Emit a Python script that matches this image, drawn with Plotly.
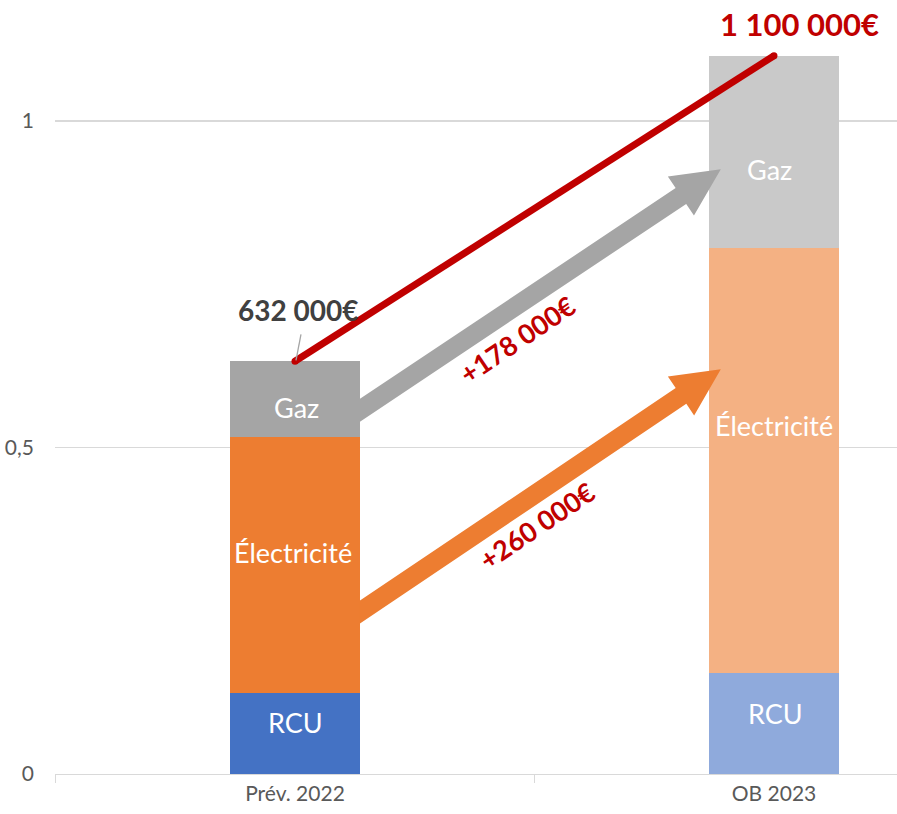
import plotly.graph_objects as go
import math

# ---------------- data ----------------
categories = ["Prév. 2022", "OB 2023"]
segments = ["RCU", "Électricité", "Gaz"]
rcu = [0.124, 0.154]
elec = [0.392, 0.652]
gaz = [0.116, 0.294]
totals_text = ["632 000€", "1 100 000€"]
delta_elec_text = "+260 000€"
delta_gaz_text = "+178 000€"
y_tickvals = [0, 0.5, 1]
y_ticktext = ["0", "0,5", "1"]

colors_rcu = ["#4472C4", "#8FAADC"]
colors_elec = ["#ED7D31", "#F4B183"]
colors_gaz = ["#A5A5A5", "#C9C9C9"]

# ---------------- layout geometry ----------------
W, H = 897, 814
ml, mr, mt, mb = 55, 0, 0, 40
xr = [-0.501, 1.2568]
yr = [0, 774 / 653]
pw, ph = W - ml - mr, H - mt - mb
bar_w = 0.2714
FONT = "Lato, Carlito, Calibri, sans-serif"


def px(x):
    return ml + (x - xr[0]) / (xr[1] - xr[0]) * pw


def py(y):
    return mt + (yr[1] - y) / (yr[1] - yr[0]) * ph


def dx(p):
    return xr[0] + (p - ml) / pw * (xr[1] - xr[0])


def dy(p):
    return yr[1] - (p - mt) / ph * (yr[1] - yr[0])


def arrow_path(tail, tip, hw=9.5, hl=48, hh=23.5):
    tx, ty = px(tail[0]), py(tail[1])
    ex, ey = px(tip[0]), py(tip[1])
    L = math.hypot(ex - tx, ey - ty)
    ux, uy = (ex - tx) / L, (ey - ty) / L
    nx, ny = -uy, ux
    bx, by = ex - ux * hl, ey - uy * hl
    pts = []
    for s in (1, -1):
        ox, oy = bx + s * nx * hw, by + s * ny * hw
        t = (tx - ox) / ux
        pts.append((tx, oy + t * uy))
    p_top_tail, p_bot_tail = pts
    poly = [p_top_tail,
            (bx + nx * hw, by + ny * hw),
            (bx + nx * hh, by + ny * hh),
            (ex, ey),
            (bx - nx * hh, by - ny * hh),
            (bx - nx * hw, by - ny * hw),
            p_bot_tail]
    return "M " + " L ".join(f"{dx(a):.5f},{dy(b):.5f}" for a, b in poly) + " Z"


fig = go.Figure()

for name, vals, cols in [("RCU", rcu, colors_rcu), ("Électricité", elec, colors_elec), ("Gaz", gaz, colors_gaz)]:
    fig.add_trace(go.Bar(
        x=categories, y=vals, name=name, width=bar_w,
        marker=dict(color=cols, line=dict(width=0)),
        showlegend=False, hoverinfo="skip",
    ))

totals = [rcu[i] + elec[i] + gaz[i] for i in range(2)]

fig.add_trace(go.Scatter(
    x=categories, y=totals, mode="lines+markers",
    line=dict(color="#C00000", width=7),
    marker=dict(color="#C00000", size=7),
    showlegend=False, hoverinfo="skip",
))

shapes = []
right0 = 0 + bar_w / 2
shapes.append(dict(type="path", xref="x", yref="y",
                   path=arrow_path((right0, 0.557), (0.889, 0.926)),
                   fillcolor="#A5A5A5", line=dict(width=0), layer="above"))
shapes.append(dict(type="path", xref="x", yref="y",
                   path=arrow_path((right0, 0.248), (0.889, 0.620)),
                   fillcolor="#ED7D31", line=dict(width=0), layer="above"))
shapes.append(dict(type="line", xref="x", yref="y",
                   x0=dx(px(0) + 1), y0=dy(py(totals[0]) - 1),
                   x1=dx(px(0) + 6), y1=dy(py(totals[0]) - 27),
                   line=dict(color="#A5A5A5", width=1.3)))

annotations = []
# segment labels (pixel offsets from segment middles, as in the source)
label_shift = {"RCU": [11, 10], "Électricité": [13, 35], "Gaz": [-8, -18]}
label_xshift = {"RCU": [1, 2], "Électricité": [-2, 0], "Gaz": [2, -4]}
for i, cat in enumerate(categories):
    base = 0
    for name, vals in [("RCU", rcu), ("Électricité", elec), ("Gaz", gaz)]:
        annotations.append(dict(
            x=i, y=base + vals[i] / 2, xref="x", yref="y", text=name, showarrow=False,
            yshift=label_shift[name][i], xshift=label_xshift[name][i],
            font=dict(family=FONT, size=27, color="white")))
        base += vals[i]

annotations += [
    dict(x=0.006, y=totals[0], yshift=51, text=f"<b>{totals_text[0]}</b>", showarrow=False,
         font=dict(family=FONT, size=28, color="#404040"), xref="x", yref="y"),
    dict(x=1.054, y=1.149, text=f"<b>{totals_text[1]}</b>", showarrow=False,
         font=dict(family=FONT, size=31, color="#C00000"), xref="x", yref="y"),
    dict(x=0.463, y=0.666, text=f"<b>{delta_gaz_text}</b>", showarrow=False, textangle=-34,
         font=dict(family=FONT, size=27, color="#C00000"), xref="x", yref="y"),
    dict(x=0.505, y=0.380, text=f"<b>{delta_elec_text}</b>", showarrow=False, textangle=-34,
         font=dict(family=FONT, size=27, color="#C00000"), xref="x", yref="y"),
]

fig.update_layout(
    barmode="stack",
    width=W, height=H,
    margin=dict(l=ml, r=mr, t=mt, b=mb, pad=0),
    paper_bgcolor="white", plot_bgcolor="white",
    shapes=shapes, annotations=annotations,
    font=dict(family=FONT, color="#595959"),
    hovermode=False,
    xaxis=dict(type="category", range=xr, showgrid=False, showline=True,
               linecolor="#D9D9D9", linewidth=1.3, ticks="outside", tickson="boundaries",
               ticklen=8, tickcolor="#D9D9D9", tickwidth=1.3,
               tickfont=dict(size=21, color="#595959", family=FONT), zeroline=False),
    yaxis=dict(range=yr, tickvals=y_tickvals, ticktext=y_ticktext, showgrid=True,
               gridcolor="#D9D9D9", gridwidth=1.3, zeroline=False, showline=False,
               ticks="", ticklabelstandoff=20,
               tickfont=dict(size=21, color="#595959", family=FONT)),
)

fig.write_html("out.html", config={"displayModeBar": False, "staticPlot": True},
               post_script="document.body.style.margin='0px';document.body.style.overflow='hidden';")
